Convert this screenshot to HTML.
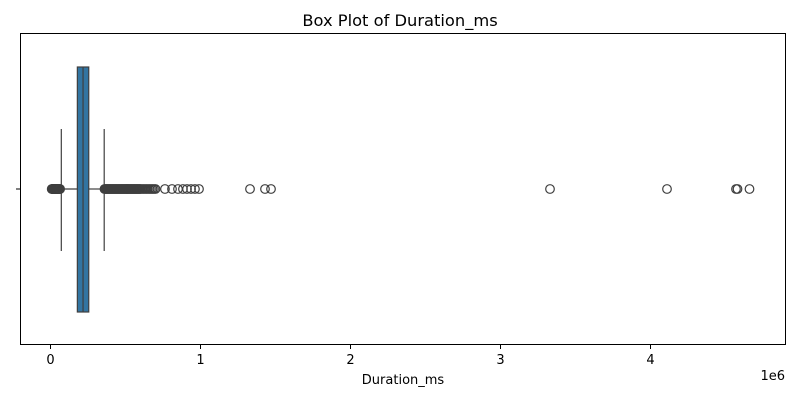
<!DOCTYPE html>
<html><head><meta charset="utf-8"><style>
body{margin:0;background:#fff;}
svg{display:block;font-family:"DejaVu Sans","Liberation Sans",sans-serif;}
</style></head><body>
<svg id="chart" width="800" height="400">
<rect x="0" y="0" width="800" height="400" fill="#fff"/>
<text x="400" y="26" text-anchor="middle" font-size="16.3" fill="#000">Box Plot of Duration_ms</text>
<g id="plot"></g>
<rect x="20.5" y="33.5" width="765" height="311" fill="none" stroke="#000" stroke-width="1"/>
<g id="xaxis"></g>
<line x1="16" y1="189" x2="20" y2="189" stroke="#000"/>
<text x="403" y="384" text-anchor="middle" font-size="13">Duration_ms</text>
<text x="785" y="380" text-anchor="end" font-size="13">1e6</text>
</svg>
<script>
const tickValues = [0, 1, 2, 3, 4];
const tickLabels = ["0", "1", "2", "3", "4"];
const stats = [0.072, 0.179, 0.217, 0.255, 0.358]; // whiskerLow, q1, median, q3, whiskerHigh (1e6)
const outliers = [0.008,0.01,0.012,0.014,0.016,0.018,0.02,0.022,0.024,0.026,0.028,0.03,0.032,0.034,0.036,0.038,0.04,0.042,0.044,0.046,0.048,0.05,0.052,0.054,0.056,0.058,0.06,0.062,0.064,
0.36,0.365,0.37,0.375,0.38,0.385,0.39,0.395,0.40,0.405,0.41,0.415,0.42,0.425,0.43,0.435,0.44,0.445,0.45,0.455,0.46,0.465,0.47,0.475,0.48,0.485,0.49,0.495,0.50,0.505,0.51,0.515,0.52,0.525,0.53,0.535,0.54,0.545,0.55,0.555,0.56,0.565,0.57,0.575,0.58,0.585,0.59,0.595,0.60,0.61,0.62,0.63,0.64,0.65,0.66,0.67,0.68,0.69,0.70,
0.763,0.81,0.85,0.883,0.91,0.937,0.963,0.99,1.33,1.43,1.47,3.33,4.11,4.57,4.58,4.66];
const NS='http://www.w3.org/2000/svg';
const x = v => 50.5 + v*150;
const cy = 189, boxTop = 67, boxBot = 312, capTop = 129, capBot = 251;
function mk(tag, attrs, parent){const e=document.createElementNS(NS,tag);for(const k in attrs)e.setAttribute(k,attrs[k]);parent.appendChild(e);return e;}
const plot=document.getElementById('plot'), xa=document.getElementById('xaxis');
tickValues.forEach((t,i)=>{
  const l=mk('line',{x1:x(t),x2:x(t),y1:344.5,y2:349,stroke:'#000'},xa);
  
  
  const tx=mk('text',{x:x(t),y:364,'text-anchor':'middle','font-size':13},xa);
  tx.textContent=tickLabels[i];
  
  
});
const c='#3f3f3f';
const w1=mk('line',{x1:x(stats[0]),x2:x(stats[1]),y1:cy,y2:cy,stroke:c,'stroke-width':1.2},plot);


const w2=mk('line',{x1:x(stats[3]),x2:x(stats[4]),y1:cy,y2:cy,stroke:c,'stroke-width':1.2},plot);


[stats[0],stats[4]].forEach(v=>{
  const cap=mk('line',{x1:x(v),x2:x(v),y1:capTop,y2:capBot,stroke:c,'stroke-width':1.2},plot);
  
  
});
const box=mk('rect',{x:x(stats[1]),y:boxTop,width:x(stats[3])-x(stats[1]),height:boxBot-boxTop,fill:'#3274a1',stroke:c,'stroke-width':1.2},plot);


const med=mk('line',{x1:x(stats[2]),x2:x(stats[2]),y1:boxTop,y2:boxBot,stroke:c,'stroke-width':1.2},plot);


outliers.forEach(v=>{
  const p=mk('circle',{cx:x(v),cy:cy,r:4.3,fill:'none',stroke:c,'stroke-width':1.2},plot);
  
  
});
</script>
</body></html>
